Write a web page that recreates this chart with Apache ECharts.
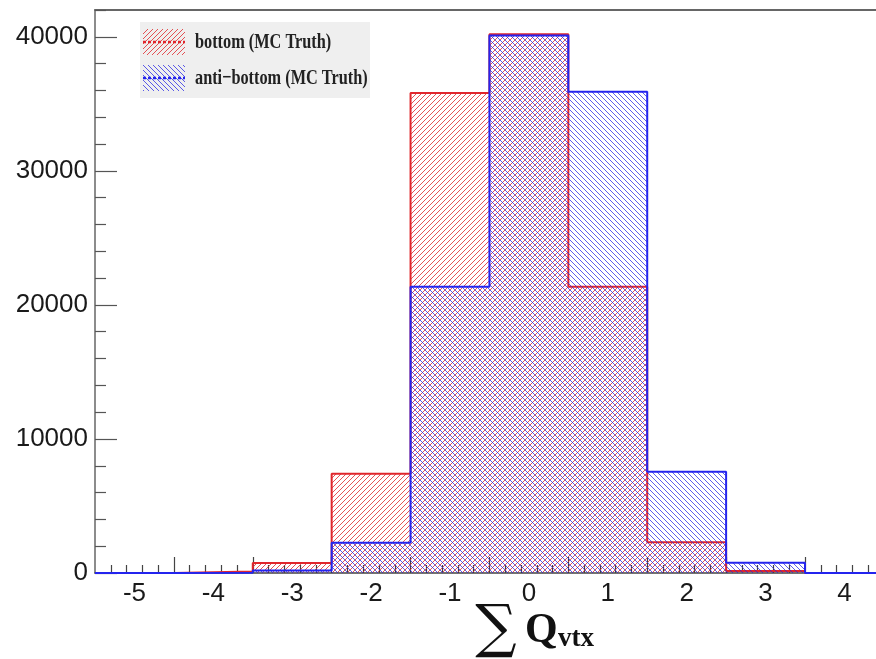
<!DOCTYPE html>
<html>
<head>
<meta charset="utf-8">
<script src="https://cdn.jsdelivr.net/npm/echarts@6/dist/echarts.min.js"></script>
<style>
  html, body { margin: 0; padding: 0; background: #fff; }
  #chart { width: 876px; height: 659px; }
</style>
</head>
<body>
<div id="chart"></div>
<script>
// bin centres of the sum of vertex charge
const binCenters = [-5, -4, -3, -2, -1, 0, 1, 2, 3, 4];
const bottomCounts = [0, 120, 750, 7400, 35800, 40200, 21350, 2300, 150, 0];
const antiBottomCounts = [0, 20, 180, 2250, 21350, 40100, 35900, 7550, 770, 0];

const xLabelValues = [-5, -4, -3, -2, -1, 0, 1, 2, 3, 4];
const xMajorTicks = [-4.5, -3.5, -2.5, -1.5, -0.5, 0.5, 1.5, 2.5, 3.5];
const xMinorTicks = [-5.3, -5.1, -4.9, -4.7, -4.3, -4.1, -3.9, -3.7, -3.3, -3.1, -2.9, -2.7,
  -2.3, -2.1, -1.9, -1.7, -1.3, -1.1, -0.9, -0.7, -0.3, -0.1, 0.1, 0.3, 0.7, 0.9, 1.1, 1.3,
  1.7, 1.9, 2.1, 2.3, 2.7, 2.9, 3.1, 3.3, 3.7, 3.9, 4.1, 4.3];
const yLabelValues = [0, 10000, 20000, 30000, 40000];
const yMinorTicks = [2000, 4000, 6000, 8000, 12000, 14000, 16000, 18000, 22000, 24000,
  26000, 28000, 32000, 34000, 36000, 38000, 42000];

const RED = '#e0262c';
const BLUE = '#2424ee';

function hatch(color, dir) {
  const s = 5;
  const c = document.createElement('canvas');
  c.width = s; c.height = s;
  const g = c.getContext('2d');
  g.strokeStyle = color;
  g.lineWidth = 1;
  g.beginPath();
  if (dir > 0) {
    g.moveTo(0, s); g.lineTo(s, 0);
    g.moveTo(-1, 1); g.lineTo(1, -1);
    g.moveTo(s - 1, s + 1); g.lineTo(s + 1, s - 1);
  } else {
    g.moveTo(0, 0); g.lineTo(s, s);
    g.moveTo(-1, s - 1); g.lineTo(1, s + 1);
    g.moveTo(s - 1, -1); g.lineTo(s + 1, 1);
  }
  g.stroke();
  return { image: c, repeat: 'repeat' };
}

// step outline: each bin becomes its two edges
function steps(counts) {
  const pts = [];
  binCenters.forEach((c, i) => {
    pts.push([c - 0.5, counts[i]]);
    pts.push([c + 0.5, counts[i]]);
  });
  return pts;
}

const redHatch = hatch('rgba(224,40,44,0.8)', 1);
const blueHatch = hatch('rgba(40,40,230,0.75)', -1);

const chart = echarts.init(document.getElementById('chart'));
const tickFont = { fontFamily: 'Liberation Sans', fontSize: 26, color: '#1a1a1a' };
const plain = v => String(v);

const option = {
  animation: false,
  grid: { left: 95, right: -1, top: 10, bottom: 86 },
  xAxis: [
    {
      type: 'value', min: -5.5, max: 4.4, position: 'bottom',
      axisLine: { show: true, onZero: false, lineStyle: { color: '#444', width: 1.5 } },
      axisTick: { show: true, inside: true, length: 16, customValues: xMajorTicks,
        lineStyle: { color: '#444', width: 1.2 } },
      axisLabel: Object.assign({ customValues: xLabelValues, margin: 8, formatter: plain }, tickFont),
      splitLine: { show: false }
    },
    {
      type: 'value', min: -5.5, max: 4.4, position: 'bottom',
      axisLine: { show: false, onZero: false },
      axisTick: { show: true, inside: true, length: 8, customValues: xMinorTicks,
        lineStyle: { color: '#444', width: 1.2 } },
      axisLabel: { show: false },
      splitLine: { show: false }
    },
    {
      type: 'value', min: -5.5, max: 4.4, position: 'top',
      axisLine: { show: true, onZero: false, lineStyle: { color: '#666', width: 2 } },
      axisTick: { show: false },
      axisLabel: { show: false },
      splitLine: { show: false }
    }
  ],
  yAxis: [
    {
      type: 'value', min: 0, max: 42000, position: 'left',
      axisLine: { show: true, onZero: false, lineStyle: { color: '#666', width: 1.5 } },
      axisTick: { show: true, inside: true, length: 22, customValues: yLabelValues,
        lineStyle: { color: '#555', width: 1.2 } },
      axisLabel: Object.assign({ customValues: yLabelValues, margin: 7, formatter: plain }, tickFont),
      splitLine: { show: false }
    },
    {
      type: 'value', min: 0, max: 42000, position: 'left',
      axisLine: { show: false, onZero: false },
      axisTick: { show: true, inside: true, length: 11, customValues: yMinorTicks,
        lineStyle: { color: '#555', width: 1.2 } },
      axisLabel: { show: false },
      splitLine: { show: false }
    }
  ],
  series: [
    {
      name: 'bottom (MC Truth)', type: 'line', data: steps(bottomCounts),
      symbol: 'none', lineStyle: { color: RED, width: 2 },
      areaStyle: { color: redHatch, opacity: 1 }, z: 2
    },
    {
      name: 'anti-bottom (MC Truth)', type: 'line', data: steps(antiBottomCounts),
      symbol: 'none', lineStyle: { color: BLUE, width: 2 },
      areaStyle: { color: blueHatch, opacity: 1 }, z: 3
    }
  ],
  graphic: [
    { type: 'rect', left: 140, top: 22, shape: { width: 230, height: 76 },
      style: { fill: '#efefef' }, z: 10 },
    { type: 'rect', left: 143, top: 29, shape: { width: 42, height: 26 },
      style: { fill: redHatch }, z: 11 },
    { type: 'line', shape: { x1: 143, y1: 42, x2: 185, y2: 42 },
      style: { stroke: RED, lineWidth: 2.5, lineDash: [3, 2] }, z: 12 },
    { type: 'rect', left: 143, top: 65, shape: { width: 42, height: 26 },
      style: { fill: blueHatch }, z: 11 },
    { type: 'line', shape: { x1: 143, y1: 78, x2: 185, y2: 78 },
      style: { stroke: BLUE, lineWidth: 2.5, lineDash: [3, 2] }, z: 12 },
    { type: 'text', x: 195, y: 42, scaleX: 0.74, z: 12,
      style: { text: 'bottom (MC Truth)', font: 'bold 22px "Liberation Serif"',
        fill: '#222', verticalAlign: 'middle' } },
    { type: 'text', x: 195, y: 78, scaleX: 0.74, z: 12,
      style: { text: 'anti\u2212bottom (MC Truth)', font: 'bold 22px "Liberation Serif"',
        fill: '#222', verticalAlign: 'middle' } },
    // x axis title
    { type: 'text', x: 496, y: 631, z: 12,
      style: { text: '\u2211', font: '58px "DejaVu Serif"', fill: '#111',
        align: 'center', verticalAlign: 'middle' } },
    { type: 'text', x: 525, y: 631, z: 12,
      style: { text: 'Q', font: 'bold 42px "Liberation Serif"', fill: '#111',
        verticalAlign: 'middle' } },
    { type: 'text', x: 558, y: 639, z: 12,
      style: { text: 'vtx', font: 'bold 27px "Liberation Serif"', fill: '#111',
        verticalAlign: 'middle' } }
  ]
};

chart.setOption(option);
</script>
</body>
</html>
